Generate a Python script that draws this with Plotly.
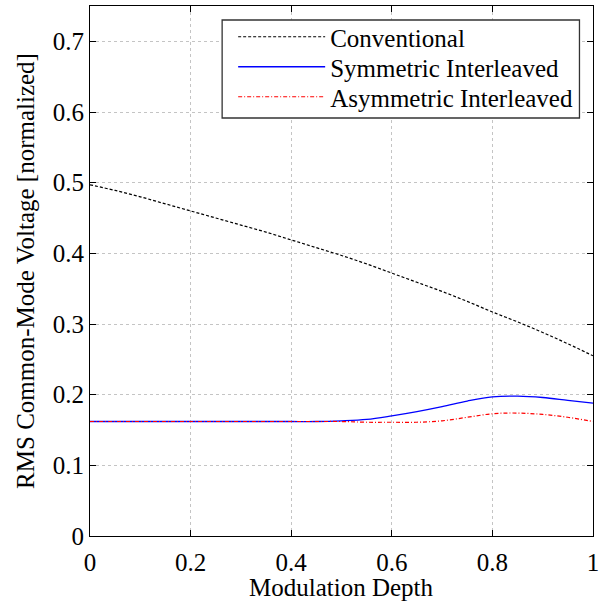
import plotly.graph_objects as go

depth = [0.0, 0.05, 0.1, 0.15, 0.2, 0.25, 0.3, 0.35, 0.4, 0.45, 0.5,
         0.55, 0.6, 0.65, 0.7, 0.75, 0.8, 0.85, 0.9, 0.95, 1.0]
conventional = [0.497, 0.489, 0.480, 0.470, 0.460, 0.450, 0.440, 0.430, 0.419, 0.408, 0.397,
                0.385, 0.372, 0.359, 0.346, 0.332, 0.317, 0.303, 0.288, 0.272, 0.255]
symmetric = [0.162, 0.162, 0.162, 0.162, 0.162, 0.162, 0.162, 0.162, 0.162, 0.162, 0.163,
             0.165, 0.170, 0.176, 0.183, 0.191, 0.197, 0.198, 0.196, 0.192, 0.188]
asymmetric = [0.162, 0.162, 0.162, 0.162, 0.162, 0.162, 0.162, 0.162, 0.162, 0.162, 0.162,
              0.161, 0.161, 0.161, 0.163, 0.168, 0.173, 0.174, 0.172, 0.168, 0.162]

x_ticks = [0, 0.2, 0.4, 0.6, 0.8, 1]
x_ticktext = ["0", "0.2", "0.4", "0.6", "0.8", "1"]
y_ticks = [0, 0.1, 0.2, 0.3, 0.4, 0.5, 0.6, 0.7]
y_ticktext = ["0", "0.1", "0.2", "0.3", "0.4", "0.5", "0.6", "0.7"]

FONT = "Liberation Serif"
FS = 25

fig = go.Figure()
fig.add_trace(go.Scatter(x=depth, y=conventional, mode="lines", name="Conventional",
                         line=dict(color="black", width=1.2, dash="3px,2px"),
                         line_shape="spline", legend="legend"))
fig.add_trace(go.Scatter(x=depth, y=symmetric, mode="lines", name="Symmetric Interleaved",
                         line=dict(color="blue", width=1.3), line_shape="spline",
                         legend="legend2"))
fig.add_trace(go.Scatter(x=depth, y=asymmetric, mode="lines", name="Asymmetric Interleaved",
                         line=dict(color="red", width=1.2, dash="4px,2px,1px,2px"),
                         line_shape="spline", legend="legend3"))

axis_common = dict(
    showline=True, linecolor="black", linewidth=1.2, mirror="allticks",
    ticks="inside", ticklen=6, tickwidth=1.2, tickcolor="black",
    showgrid=True, gridcolor="#c4c4c4", griddash="dot", gridwidth=1,
    zeroline=False, tickfont=dict(family=FONT, size=FS, color="black"),
    automargin=False,
)

# legend frame (decoration)
fig.add_shape(type="rect", xref="paper", yref="paper",
              x0=0.2627, x1=0.9731, y0=0.7887, y1=0.9736,
              line=dict(color="#333333", width=1.3), fillcolor="white", layer="above")

# axis titles
fig.add_annotation(text="Modulation Depth", xref="paper", yref="paper",
                   x=0.5, y=-0.0981, xanchor="center", yanchor="middle",
                   showarrow=False, font=dict(family=FONT, size=FS, color="black"))
fig.add_annotation(text="RMS Common-Mode Voltage [normalized]", xref="paper", yref="paper",
                   x=-0.1294, y=0.5, xanchor="center", yanchor="middle", textangle=-90,
                   showarrow=False, font=dict(family=FONT, size=FS, color="black"))

leg_common = dict(xanchor="left", yanchor="middle", bgcolor="rgba(0,0,0,0)",
                  borderwidth=0, font=dict(family=FONT, size=FS, color="black"),
                  itemwidth=87)

fig.update_layout(
    width=602, height=604,
    margin=dict(l=90, r=9, t=6, b=68),
    plot_bgcolor="white", paper_bgcolor="white",
    font=dict(family=FONT, size=FS, color="black"),
    xaxis=dict(range=[0, 1], tickvals=x_ticks, ticktext=x_ticktext,
               ticklabelstandoff=4, **axis_common),
    yaxis=dict(range=[0, 0.75], tickvals=y_ticks, ticktext=y_ticktext,
               **axis_common),
    legend=dict(x=0.2846, y=0.9415, **leg_common),
    legend2=dict(x=0.2846, y=0.8849, **leg_common),
    legend3=dict(x=0.2846, y=0.8283, **leg_common),
    showlegend=True,
)

fig.write_html("out.html", config={"displayModeBar": False},
               post_script="document.body.style.margin='0';")
